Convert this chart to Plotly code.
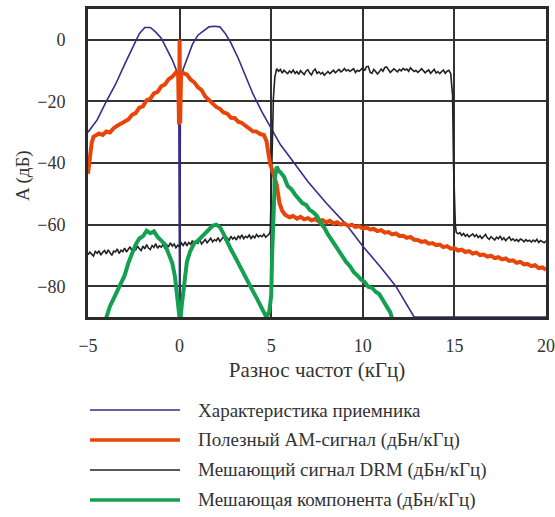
import numpy as np
import plotly.graph_objects as go

# ---------------- data ----------------
# Receiver characteristic (purple)
rx_x = [-5, -4.5, -4, -3.5, -3, -2.5, -2.2, -1.9, -1.6, -1.3, -1.0, -0.7, -0.4, -0.2, -0.05, 0, 0.05,
        0.2, 0.4, 0.7, 1.0, 1.3, 1.6, 1.9, 2.2, 2.5, 2.8, 3.2, 3.6, 4.0, 4.5, 5.0, 5.5, 6.0, 7.0,
        8.0, 9.1, 10.0, 11.0, 11.8, 12.8, 20]
rx_y = [-30, -26, -20, -14.5, -8, -1.5, 2, 4, 4, 2.5, 0.5, -3, -6.5, -9.5, -13, -90, -13,
        -9.5, -6, -1.5, 1.5, 3, 4.2, 4.4, 4.2, 2, -1, -6, -12, -17.5, -23.5, -29, -34, -38, -46,
        -53, -60, -67, -74, -80, -90, -90]

# Useful AM signal (orange)
am_x_left = [-5.0, -4.9, -4.8, -4.7, -4.6, -4.4, -4.2, -4.0, -3.8, -3.6, -3.4, -3.2, -3.0, -2.8,
             -2.6, -2.4, -2.2, -2.0, -1.8, -1.6, -1.4, -1.2, -1.0, -0.8, -0.6, -0.4, -0.2]
am_y_left = [-43.5, -38, -33.5, -31.5, -31.2, -30.4, -30.9, -29.8, -30.1, -28.7, -27.9, -27.2,
             -26.5, -25.9, -24.4, -23.8, -22.0, -21.6, -19.6, -19.2, -17.4, -16.9, -15.1, -14.5,
             -12.8, -12.0, -10.6]
am_x_spike = [-0.08, -0.03, 0.0, 0.03, 0.08]
am_y_spike = [-11.0, -27.5, 0.0, -27.0, -10.8]
am_x_right = [0.2, 0.4, 0.6, 0.8, 1.0, 1.2, 1.4, 1.6, 1.8, 2.0, 2.2, 2.4, 2.6, 2.8, 3.0, 3.2,
              3.4, 3.6, 3.8, 4.0, 4.2, 4.4, 4.6, 4.75, 4.85, 4.95, 5.1, 5.3, 5.45, 5.6, 5.75]
am_y_right = [-10.8, -11.3, -12.9, -13.8, -15.4, -16.3, -18.4, -19.5, -20.4, -21.8, -22.4, -23.6,
              -24.0, -25.3, -25.4, -26.6, -27.0, -27.9, -28.6, -29.7, -29.8, -30.6, -30.9, -33,
              -37, -40.5, -43, -47, -53, -55.5, -56.8]
am_y_tail = [-56.9, -57.6, -57.2, -58.1, -57.5, -58.3, -57.9, -58.6, -58.2, -59.0,
             -58.5, -59.3, -58.8, -59.7, -59.2, -60.0, -59.6, -60.4, -60.0, -60.8,
             -60.5, -61.3, -60.9, -61.6, -61.4, -62.1, -61.8, -62.6, -62.4, -63.2,
             -62.9, -63.7, -63.6, -64.3, -64.0, -64.9, -65.0, -65.6, -65.4, -66.2,
             -66.0, -66.7, -66.5, -67.3, -67.0, -67.8, -67.6, -68.4, -68.1, -68.9,
             -68.6, -69.4, -69.1, -69.9, -69.7, -70.4, -70.1, -70.9, -70.6, -71.3,
             -71.0, -71.8, -71.6, -72.4, -72.1, -72.9, -72.8, -73.5, -73.2, -74.1,
             -73.9, -74.7]
am_x_tail = list(np.round(5.8 + 0.2 * np.arange(len(am_y_tail)), 2))

# Interfering DRM signal (black)
drm_y_a = [-69.8, -68.9, -69.6, -70.2, -68.7, -69.3, -68.5, -69.9, -69.0, -68.4,
           -69.5, -68.2, -69.1, -70.0, -68.6, -68.9, -67.9, -69.4, -68.3, -68.8,
           -67.6, -68.9, -68.0, -67.2, -68.6, -67.5, -68.3, -66.9, -67.8, -68.4,
           -67.0, -67.9, -66.5, -67.6, -68.1, -66.8, -67.4, -66.2, -67.7, -66.9,
           -67.3, -66.4, -67.8, -66.6, -67.1, -65.9, -67.0, -66.3, -67.5, -66.7,
           -67.2, -66.0, -66.8, -65.6, -66.9, -65.8, -66.4, -65.2, -66.5, -65.7,
           -66.1, -65.0, -66.3, -65.4, -64.8, -65.9, -65.1, -64.4, -65.6, -64.9,
           -65.3, -64.2, -65.5, -64.6, -63.9, -65.0, -64.3, -65.2, -63.8, -64.7,
           -64.1, -65.0, -63.6, -64.4, -63.3, -64.6, -63.8, -64.2, -63.4, -64.5,
           -63.7, -64.3, -63.2, -64.0, -63.5, -63.9, -63.1, -64.1, -63.6, -63.0]
drm_x_a = list(np.round(-5.0 + 0.1 * np.arange(len(drm_y_a)), 2))
drm_x_rise = [4.95, 5.05, 5.12, 5.2]
drm_y_rise = [-62.0, -35.0, -19.0, -12.0]
drm_y_b = [-9.4, -10.2, -9.6, -10.8, -9.9, -10.5, -11.0, -10.1, -10.7, -9.8,
           -10.9, -10.3, -11.2, -10.0, -10.6, -11.3, -10.2, -9.7, -10.8, -11.4,
           -10.1, -9.5, -10.9, -10.4, -11.1, -10.6, -11.5, -10.8, -10.3, -11.0,
           -10.5, -9.9, -10.7, -10.2, -9.6, -10.4, -10.0, -9.3, -10.1, -9.7,
           -10.3, -9.8, -9.4, -10.6, -9.9, -10.2, -9.6, -9.1, -10.0, -8.7,
           -8.6, -10.5, -10.9, -9.6, -10.3, -11.1, -10.4, -9.5, -10.2, -9.0,
           -8.8, -9.7, -10.6, -10.0, -9.4, -9.9, -10.4, -9.6, -10.1, -9.3,
           -9.8, -9.5, -10.2, -9.1, -9.7, -10.3, -9.9, -10.6, -10.1, -9.4,
           -10.0, -10.7, -10.2, -9.8, -10.9, -10.4, -9.6, -10.8, -10.3, -11.0,
           -10.5, -9.8, -10.9, -10.2, -9.9]
drm_x_b = list(np.round(5.3 + 0.1 * np.arange(len(drm_y_b)), 2))
drm_x_fall = [14.8, 14.9, 14.95, 15.05, 15.1]
drm_y_fall = [-11.0, -18.0, -40.0, -60.0, -62.5]
drm_y_c = [-63.0, -62.6, -63.5, -62.9, -63.8, -63.2, -64.0, -63.4, -63.0, -63.9,
           -63.3, -64.2, -63.6, -64.5, -63.8, -63.2, -64.3, -64.8, -63.9, -64.4,
           -65.0, -64.1, -64.6, -63.7, -64.9, -64.3, -65.2, -64.5, -64.0, -65.1,
           -64.6, -65.3, -64.8, -65.5, -64.7, -65.0, -65.6, -64.9, -65.4, -65.1,
           -65.7, -65.0, -65.5, -64.8, -65.8, -65.2, -65.6, -65.9, -65.3]
drm_x_c = list(np.round(15.2 + 0.1 * np.arange(len(drm_y_c)), 2))

# Interfering component (green)
gr_x = [-4.1, -4.0, -3.8, -3.6, -3.4, -3.2, -3.0, -2.8, -2.6, -2.4, -2.2, -2.0, -1.8, -1.6, -1.4,
        -1.2, -1.0, -0.8, -0.6, -0.4, -0.25, -0.12, -0.03,
        0.03, 0.12, 0.25, 0.4, 0.57, 0.8, 1.0, 1.2, 1.4, 1.6, 1.8, 2.0, 2.2, 2.4, 2.6, 2.8, 3.0,
        3.2, 3.4, 3.6, 3.8, 4.0, 4.2, 4.4, 4.6, 4.75, 4.9, 5.0, 5.05, 5.12, 5.2, 5.3, 5.4, 5.5,
        5.7, 5.9, 6.1, 6.3, 6.5, 6.7, 6.9, 7.1, 7.3, 7.5, 7.7, 7.9, 8.1, 8.3, 8.5, 8.7, 8.9, 9.1,
        9.3, 9.5, 9.7, 9.9, 10.1, 10.3, 10.5, 10.7, 10.9, 11.1, 11.3, 11.5, 11.65]
gr_y = [-92, -90, -86.5, -84, -81.5, -78.5, -76.5, -72.5, -69.5, -66.5, -64.5, -63.8, -62.0,
        -62.8, -62.2, -64.0, -65.2, -66.4, -69.5, -72.5, -77, -84, -92,
        -92, -86, -78, -72, -68.8, -66, -65.2, -64.0, -62.8, -61.5, -60.4, -60.0, -60.8, -63.0,
        -65.8, -68.0, -70.2, -72.6, -74.8, -77.0, -79.5, -81.6, -83.8, -86.0, -88.4, -90.2,
        -88, -83, -70, -55, -45, -41.2, -42.5, -43, -44.5, -47.5, -48.5, -50.2, -51.5, -53,
        -53.6, -55.2, -56, -57.2, -59.5, -61, -63.2, -65, -67.3, -68.6, -70.8, -72.2, -73.5,
        -75.4, -76.5, -77.8, -78.6, -80.2, -80.5, -81.8, -82.6, -84.4, -86.2, -88.5, -91.5]

x_ticks = [-5, 0, 5, 10, 15, 20]
y_ticks = [0, -20, -40, -60, -80]

legend_names = ["Характеристика приемника",
                "Полезный АМ-сигнал (дБн/кГц)",
                "Мешающий сигнал DRM (дБн/кГц)",
                "Мешающая компонента (дБн/кГц)"]
colors = ["#3a2a90", "#e8450a", "#222222", "#14a050"]
widths = [1.6, 4, 1.6, 4]

# ---------------- figure ----------------
am_x = am_x_left + am_x_spike + am_x_right + am_x_tail
am_y = am_y_left + am_y_spike + am_y_right + am_y_tail
drm_x = drm_x_a + drm_x_rise + drm_x_b + drm_x_fall + drm_x_c
drm_y = drm_y_a + drm_y_rise + drm_y_b + drm_y_fall + drm_y_c

fig = go.Figure()
fig.add_trace(go.Scatter(x=rx_x, y=rx_y, mode="lines", name=legend_names[0],
                         line=dict(color=colors[0], width=widths[0])))
fig.add_trace(go.Scatter(x=drm_x, y=drm_y, mode="lines", name=legend_names[2],
                         line=dict(color=colors[2], width=widths[2])))
fig.add_trace(go.Scatter(x=am_x, y=am_y, mode="lines", name=legend_names[1],
                         line=dict(color=colors[1], width=widths[1])))
fig.add_trace(go.Scatter(x=gr_x, y=gr_y, mode="lines", name=legend_names[3],
                         line=dict(color=colors[3], width=widths[3])))

font_family = "Liberation Serif"
plot_left, plot_w = 88, 458
plot_top, plot_h = 9, 308

fig.update_layout(
    width=555, height=517,
    margin=dict(l=88, r=9, t=9, b=200),
    paper_bgcolor="white", plot_bgcolor="white",
    showlegend=False,
    font=dict(family=font_family, size=18, color="#333333"),
    xaxis=dict(range=[-5, 20], tickvals=x_ticks, showgrid=True, gridcolor="#333333",
               gridwidth=2, zeroline=False, showline=True, mirror=True, linewidth=3,
               linecolor="#2b2b2b", ticks="", ticklabelstandoff=10, layer="below traces",
               automargin=False, tickfont=dict(family=font_family, size=18),
               title=dict(text="Разнос частот (кГц)", font=dict(family=font_family, size=21),
                          standoff=8)),
    yaxis=dict(range=[-90, 10], tickvals=y_ticks, showgrid=True, gridcolor="#333333",
               gridwidth=2, zeroline=False, showline=True, mirror=True, linewidth=3,
               linecolor="#2b2b2b", ticks="", ticklabelstandoff=16, layer="below traces",
               automargin=False, tickfont=dict(family=font_family, size=18)),
)

# y-axis title as rotated annotation
fig.add_annotation(xref="paper", yref="paper", x=(23 - plot_left) / plot_w,
                   y=(plot_top + plot_h - 176) / plot_h, text="A (дБ)", textangle=-90,
                   showarrow=False, xanchor="center", yanchor="middle",
                   font=dict(family=font_family, size=19, color="#333333"))

# legend drawn below the plot
row_px = [410, 440, 470, 500]
for i, name in enumerate(legend_names):
    yp = (plot_top + plot_h - row_px[i]) / plot_h
    fig.add_shape(type="line", xref="paper", yref="paper",
                  x0=(90 - plot_left) / plot_w, x1=(180 - plot_left) / plot_w, y0=yp, y1=yp,
                  line=dict(color=colors[i], width=widths[i] if widths[i] < 3 else 3.5))
    fig.add_annotation(xref="paper", yref="paper", x=(196 - plot_left) / plot_w, y=yp,
                       text=name, showarrow=False, xanchor="left", yanchor="middle",
                       font=dict(family=font_family, size=19, color="#333333"))

fig.write_html("out.html")
